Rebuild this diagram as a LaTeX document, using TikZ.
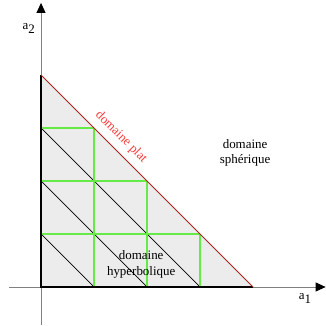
\documentclass[tikz,border=0pt]{standalone}
\usepackage{fontspec}
\setmainfont{Liberation Serif}
\usetikzlibrary{arrows.meta}
\definecolor{grille}{RGB}{100,235,70}
\definecolor{plat}{RGB}{185,30,30}
\definecolor{textplat}{RGB}{250,60,60}
\begin{document}
\begin{tikzpicture}[x=53bp,y=53bp,
    axe/.style={draw=gray, line width=0.8bp, -{Triangle[length=10bp,width=9bp,black]}},
    etiq/.style={font=\fontsize{13}{16}\selectfont, align=center, inner sep=0pt}]
    \useasboundingbox (-0.774,-0.736) rectangle (5.377,5.415);
    % Sommets du triangle
    \coordinate (O) at (0,0);
    \coordinate (A) at (4,0);
    \coordinate (B) at (0,4);

    % Domaine hyperbolique
    \fill[gray!15] (O) -- (A) -- (B) -- cycle;

    % Droites paralleles
    \foreach \i in {1,2,3}
        \draw[black, line width=0.7bp] (0,\i) -- (\i,0);
    % Grille
    \foreach \i in {1,2,3} {
        \draw[grille, line width=1.3bp] (0,\i) -- ({4-\i},\i);
        \draw[grille, line width=1.3bp] (\i,0) -- (\i,{4-\i});
    }

    % Axes
    \draw[axe] (-0.6,0) -- (5.37,0);
    \draw[axe] (0,-0.72) -- (0,5.36);
    \draw[black, line width=1.3bp] (A) -- (O) -- (B);

    % Domaine plat
    \draw[plat, line width=1bp] (B) -- (A);

    % Etiquettes
    \node[etiq] (a2) at (-0.23,4.87) {a\raisebox{-4bp}{2}};
    \node[etiq] (a1) at (4.98,-0.21) {a\raisebox{-4bp}{1}};
    \node[etiq, text=textplat, rotate=-45] (plat) at (1.51,2.83) {domaine plat};
    \node[etiq] (sph) at (3.85,2.53) {domaine\\sphérique};
    \node[etiq] (hyp) at (1.89,0.43) {domaine\\hyperbolique};
\end{tikzpicture}
\end{document}
